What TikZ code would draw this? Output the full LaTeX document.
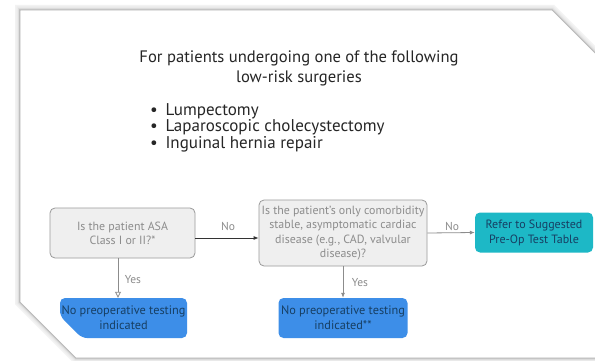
\documentclass[tikz,border=0pt]{standalone}
\usepackage{fontspec}
\setmainfont{PT Sans}
\usetikzlibrary{arrows.meta}
\definecolor{boxgray}{HTML}{EFEFEF}
\definecolor{boxedge}{HTML}{9A9A9A}
\definecolor{txtgray}{HTML}{8C8C8C}
\definecolor{teal1}{HTML}{1DB8C6}
\definecolor{blue1}{HTML}{3D8EE8}
\definecolor{darktxt}{HTML}{173F63}
\tikzset{
  qbox/.style={draw=boxedge, fill=boxgray, rounded corners=5pt, line width=0.8pt,
    text=txtgray, align=center, font=\fontsize{11.9}{14.3}\selectfont, inner sep=1pt},
  actbox/.style={rounded corners=5pt, text=darktxt, align=center, inner sep=1pt},
  lbl/.style={text=txtgray, font=\fontsize{11.5}{13}\selectfont},
  garrow/.style={draw=txtgray, line width=0.8pt, -{Latex[length=5pt,width=4pt]}},
}
\begin{document}
\begin{tikzpicture}[x=1pt,y=-1pt]
\useasboundingbox (0,0) rectangle (595,361);
\fill[white] (0,0) rectangle (595,361);
% card shadow
\foreach \w/\c in {10/5,7/8,4/13,2/22}{
  \draw[line width=\w pt, black!\c, line join=miter]
    (20,10) -- (552,10) -- (610,68) -- (610,358) -- (76,358) -- (20,302) -- cycle;
}
\fill[white] (20,10) -- (552,10) -- (610,68) -- (610,358) -- (76,358) -- (20,302) -- cycle;
\draw[line width=0.6pt, black!30] (20,10) -- (552,10) -- (610,68) -- (610,358) -- (76,358) -- (20,302) -- cycle;

% title
\node[font=\fontsize{16.6}{20}\selectfont, text=black!85, align=center] (title) at (299,68)
  {For patients undergoing one of the following\\low-risk surgeries};
\node[font=\fontsize{17}{15.5}\selectfont, text=black!85, align=left, anchor=north west, inner sep=0pt] (list) at (150,103)
  {\textbullet\hspace{0.45em}Lumpectomy\\\textbullet\hspace{0.45em}Laparoscopic cholecystectomy\\\textbullet\hspace{0.45em}Inguinal hernia repair};

% boxes
\node[qbox, minimum width=145pt, minimum height=50pt] (q1) at (122.5,233) {Is the patient ASA\\Class I or II?*};
\node[qbox, minimum width=168pt, minimum height=66pt] (q2) at (343,233)
  {Is the patient's only comorbidity\\stable, asymptomatic cardiac\\disease (e.g., CAD, valvular\\disease)?};
\node[actbox, fill=teal1, minimum width=118pt, minimum height=40pt, font=\fontsize{12}{15}\selectfont] (r) at (534,232.5)
  {Refer to Suggested\\Pre-Op Test Table};
\fill[blue1, rounded corners=5pt] (60,298) -- (187,298) -- (187,338) -- (82,338) -- (60,316) -- cycle;
\node[actbox, minimum width=127pt, minimum height=40pt, font=\fontsize{12.3}{15}\selectfont] (n1) at (123.5,318)
  {No preoperative testing\\indicated};
\node[actbox, fill=blue1, minimum width=129pt, minimum height=40pt, font=\fontsize{12.3}{15}\selectfont] (n2) at (343,318)
  {No preoperative testing\\indicated**};

% connectors
\draw[line width=0.8pt, black!80, -{Latex[length=5pt,width=4pt]}] ([yshift=-5pt]q1.east) -- ([yshift=-5pt]q1.east -| q2.west);
\node[lbl] (no1) at (228,226) {No};
\draw[garrow] (q2.east) -- (r.west);
\node[lbl] (no2) at (452,226) {No};
\draw[draw=txtgray, line width=0.8pt, -{Triangle[open,length=6pt,width=6pt]}] (q1.south -| 118,0) -- (n1.north -| 118,0);
\node[lbl] (yes1) at (133,280) {Yes};
\draw[garrow] (q2.south) -- (n2.north);
\node[lbl] (yes2) at (360,283) {Yes};
\end{tikzpicture}
\end{document}
